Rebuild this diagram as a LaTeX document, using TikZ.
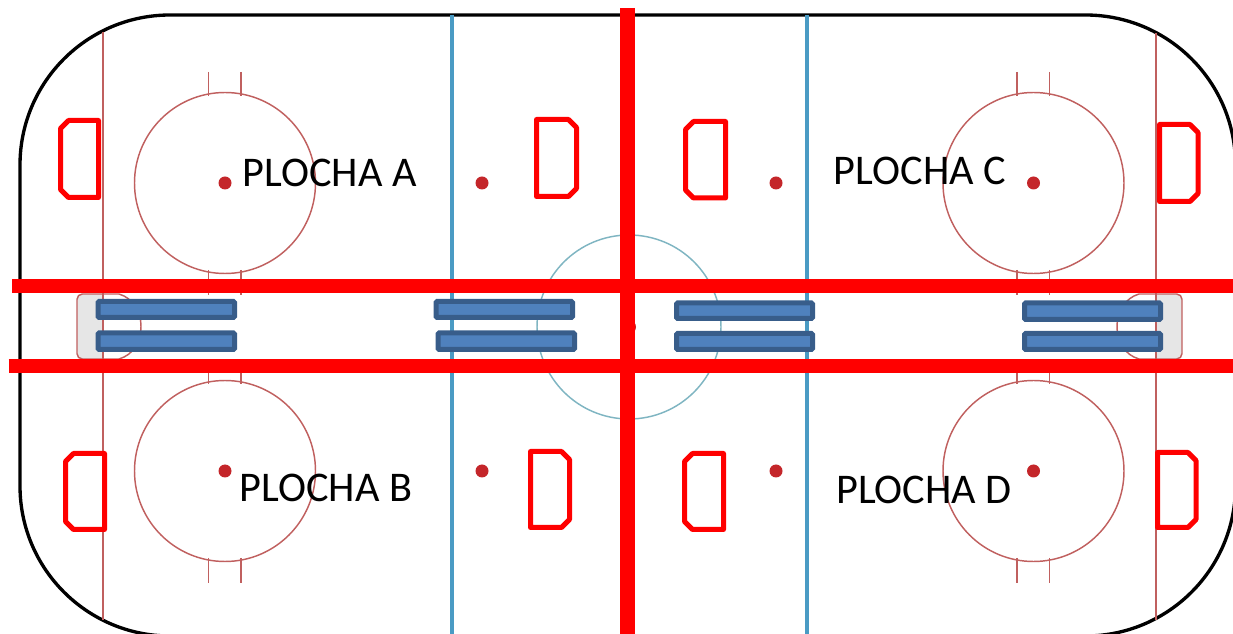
\documentclass[tikz,border=0pt]{standalone}
\usepackage{fontspec}
\setmainfont{Carlito}
\definecolor{rinkred}{HTML}{C0605F}
\definecolor{dotred}{HTML}{C4262A}
\definecolor{blueline}{HTML}{4A9BC4}
\definecolor{centerc}{HTML}{7FB5C2}
\definecolor{barfill}{HTML}{4F81BD}
\definecolor{barline}{HTML}{385D8A}
\definecolor{creasegrey}{HTML}{E6E6E6}
\definecolor{zonered}{HTML}{FF0000}
\tikzset{
  rink/.style={draw=black,line width=2.5pt},
  goalline/.style={draw=rinkred,line width=1.2pt},
  faceoff/.style={draw=rinkred,line width=1.1pt},
  bluebar/.style={draw=blueline,line width=3.5pt},
  centercircle/.style={draw=centerc,line width=1.1pt},
  spot/.style={fill=dotred},
  bench/.style={draw=barline,fill=barfill,line width=3.75pt,rounded corners=0.8pt},
  divider/.style={draw=zonered,line width=10.7pt},
  crease/.style={draw=zonered,line width=3.75pt,line join=round},
  label/.style={font=\fontsize{31.7pt}{33pt}\selectfont,text=black,inner sep=0pt},
}
\newcommand{\chamL}[4]{\draw[crease] (#1+8,#3) -- (#2,#3) -- (#2,#4) -- (#1+8,#4) -- (#1,#4-8) -- (#1,#3+8) -- cycle;}
\newcommand{\chamR}[4]{\draw[crease] (#1,#3) -- (#2-8,#3) -- (#2,#3+8) -- (#2,#4-8) -- (#2-8,#4) -- (#1,#4) -- cycle;}
\begin{document}
\begin{tikzpicture}[x=0.75pt,y=-0.75pt]
\useasboundingbox (0,0) rectangle (1233,634);
\clip (0,0) rectangle (1233,634);
% rink outline
\draw[rink,rounded corners=112.5pt] (20,15) rectangle (1235.5,636);
% end-zone grey crease areas
\draw[faceoff,fill=creasegrey,rounded corners=4pt] (103,294) -- (77,294) -- (77,359) -- (103,359);
\draw[faceoff] (103,294) -- (119,294) .. controls (133,298) and (141,312) .. (141,326) .. controls (141,342) and (133,355) .. (119,359) -- (103,359);
\draw[faceoff,fill=creasegrey,rounded corners=4pt] (1156,294) -- (1182,294) -- (1182,359) -- (1156,359);
\draw[faceoff] (1156,294) -- (1139,294) .. controls (1125,298) and (1117,312) .. (1117,326) .. controls (1117,342) and (1125,355) .. (1139,359) -- (1156,359);
% goal lines
\draw[goalline] (103,32) -- (103,620);
\draw[goalline] (1156,33) -- (1156,620);
% blue lines
\draw[bluebar] (452,15) -- (452,634);
\draw[bluebar] (807,15) -- (807,634);
% centre circle and spot
\draw[centercircle] (629,327) circle[radius=92];
\fill[spot] (629,327) circle[radius=7];
% faceoff circles
\foreach \cx/\cy in {225/183,1033.5/183,225/471,1033.5/471}{
  \draw[faceoff] (\cx,\cy) circle[radius=90.5];
  \fill[spot] (\cx,\cy) circle[radius=6.5];
  \draw[faceoff] (\cx-16.5,\cy-111) -- (\cx-16.5,\cy-87);
  \draw[faceoff] (\cx+16,\cy-111) -- (\cx+16,\cy-87);
  \draw[faceoff] (\cx-16.5,\cy+87) -- (\cx-16.5,\cy+112);
  \draw[faceoff] (\cx+16,\cy+87) -- (\cx+16,\cy+112);
}
% neutral-zone spots
\foreach \cx/\cy in {482/183,776/183,482/471,776/471}{
  \fill[spot] (\cx,\cy) circle[radius=6.5];
}
% benches
\draw[bench] (98,301.5) rectangle (234.5,317.5);
\draw[bench] (98,333) rectangle (234.5,349.5);
\draw[bench] (436,301.5) rectangle (572.5,317.5);
\draw[bench] (438,333) rectangle (574.5,349.5);
\draw[bench] (676.5,303) rectangle (812.5,318.5);
\draw[bench] (676.5,333.5) rectangle (812.5,349.5);
\draw[bench] (1024.5,303) rectangle (1160.5,319.5);
\draw[bench] (1024.5,333.5) rectangle (1160.5,349.5);
% dividers
\draw[divider] (12,286) -- (1240,286);
\draw[divider] (8.5,366) -- (1240,366);
\draw[divider] (627.5,8) -- (627.5,640);
% red crease boxes
\chamL{60.5}{98.5}{120.5}{197.5}
\chamR{536.5}{576.5}{119.5}{196.5}
\chamL{685.5}{725.5}{121.5}{198}
\chamR{1159.5}{1198}{124.5}{201.5}
\chamL{65.5}{104.5}{453.5}{529.5}
\chamR{530.5}{569.5}{451.5}{527.5}
\chamL{684.5}{723.5}{453.5}{529.5}
\chamR{1157.5}{1196}{452.5}{527.5}
% labels
\node[label] (plochaA) at (329.5,173) {PLOCHA A};
\node[label] (plochaB) at (326,488) {PLOCHA B};
\node[label] (plochaC) at (920,171) {PLOCHA C};
\node[label] (plochaD) at (924,490) {PLOCHA D};
\end{tikzpicture}
\end{document}
